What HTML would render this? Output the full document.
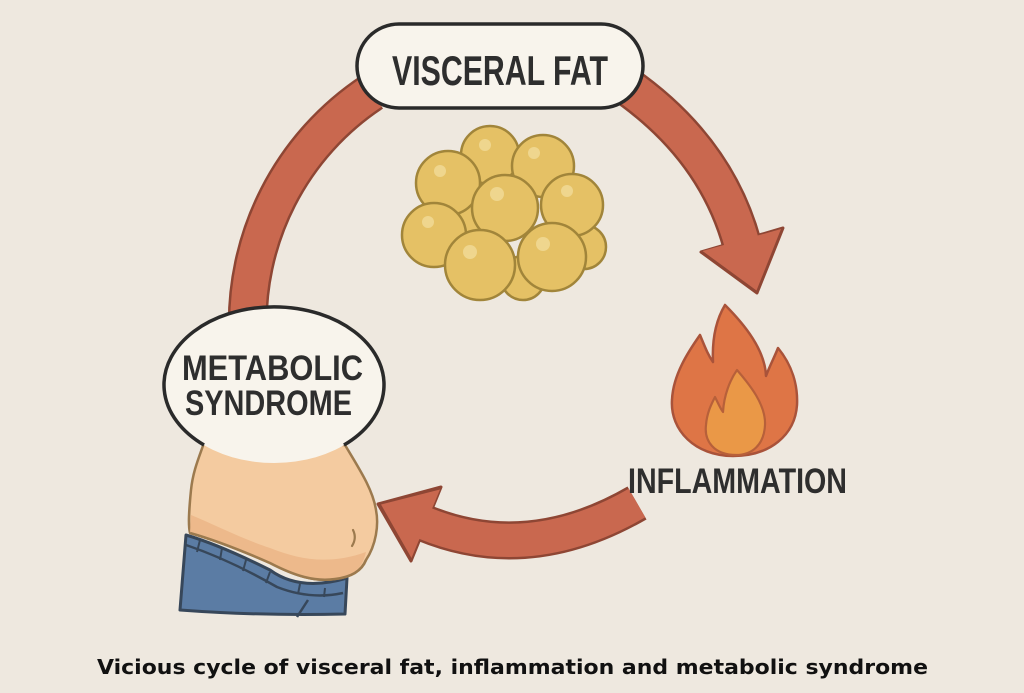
<!DOCTYPE html>
<html><head><meta charset="utf-8"><style>
html,body{margin:0;padding:0;background:#EEE8DF;}
svg{display:block;}
</style></head><body>
<svg width="1024" height="693" viewBox="0 0 1024 693" xmlns="http://www.w3.org/2000/svg">
<rect width="1024" height="693" fill="#EEE8DF"/>

<!-- Left arc (no head) -->
<path d="M 248 335 A 277 277 0 0 1 372 92" fill="none" stroke="#8E4634" stroke-width="40"/>
<path d="M 248 335 A 277 277 0 0 1 372 92" fill="none" stroke="#C9684F" stroke-width="35"/>

<!-- Top-right arrow -->
<path d="M 618 80 Q 715 145 742 244" fill="none" stroke="#8E4634" stroke-width="40"/>
<polygon points="701,252 783,228 757,293" fill="#8E4634" stroke="#8E4634" stroke-width="3" stroke-linejoin="round"/>
<path d="M 618 80 Q 715 145 742 244" fill="none" stroke="#C9684F" stroke-width="35"/>
<polygon points="702.5,251 781,229 756.5,290.5" fill="#C9684F"/>

<!-- Bottom arrow -->
<path d="M 637 503 Q 528 566 424 523" fill="none" stroke="#8E4634" stroke-width="38"/>
<polygon points="441,487 378,504 411,561" fill="#8E4634" stroke="#8E4634" stroke-width="3" stroke-linejoin="round"/>
<path d="M 637 503 Q 528 566 424 523" fill="none" stroke="#C9684F" stroke-width="33"/>
<polygon points="440,489.5 381,504.5 411.5,558" fill="#C9684F"/>

<!-- Visceral fat pill -->
<rect x="357" y="24" width="286" height="84" rx="42" ry="42" fill="#F8F4EC" stroke="#2A2A2A" stroke-width="3.5"/>
<text x="392" y="85" font-family="Liberation Sans, sans-serif" font-weight="bold" font-size="42" fill="#2E2E2E" textLength="216" lengthAdjust="spacingAndGlyphs">VISCERAL FAT</text>

<!-- Fat cells -->
<g stroke="#A1853A" stroke-width="2.5" fill="#E5C165">
<circle cx="584" cy="247" r="22"/>
<circle cx="523" cy="278" r="22"/>
<circle cx="462" cy="220" r="25"/>
<circle cx="490" cy="155" r="29"/>
<circle cx="543" cy="166" r="31"/>
<circle cx="448" cy="183" r="32"/>
<circle cx="572" cy="205" r="31"/>
<circle cx="505" cy="208" r="33"/>
<circle cx="434" cy="235" r="32"/>
<circle cx="480" cy="265" r="35"/>
<circle cx="552" cy="257" r="34"/>
</g>
<g fill="#F1DA96" opacity="0.85">
<circle cx="485" cy="145" r="6"/>
<circle cx="534" cy="153" r="6"/>
<circle cx="440" cy="171" r="6"/>
<circle cx="567" cy="191" r="6"/>
<circle cx="497" cy="194" r="7"/>
<circle cx="428" cy="222" r="6"/>
<circle cx="470" cy="252" r="7"/>
<circle cx="543" cy="244" r="7"/>
</g>

<!-- Jeans -->
<path d="M 186 535 L 180 610 Q 260 616 345 614 L 347 578 Q 300 592 270 570 Q 220 545 186 535 Z" fill="#5B7CA4" stroke="#37475A" stroke-width="3" stroke-linejoin="round"/>
<path d="M 186 545 Q 230 560 277 587 Q 310 600 343 593" fill="none" stroke="#37475A" stroke-width="2.5"/>
<path d="M 200 540 L 197 552 M 222 548 L 220 560 M 246 560 L 243 571 M 270 572 L 266 583 M 300 584 L 298 594 M 325 588 L 324 597" stroke="#37475A" stroke-width="2"/>
<path d="M 297 617 L 308 600" stroke="#37475A" stroke-width="2.5"/>

<!-- Belly -->
<path d="M 205 440 C 200 455 193 470 191 490 C 189 510 188 525 190 533 C 215 540 245 552 270 563 C 295 576 315 582 335 579 C 352 577 362 570 366 560 C 376 545 379 525 376 510 C 373 490 360 470 345 445 Z" fill="#F4CBA0" stroke="#9C7A4E" stroke-width="2.5" stroke-linejoin="round"/>
<path d="M 191 515 C 215 525 245 540 270 548 C 300 560 330 565 366 552 C 362 570 352 577 335 579 C 315 582 295 576 270 563 C 245 552 215 540 190 533 Z" fill="#EDB98B"/>
<path d="M 190 533 C 215 540 245 552 270 563 C 295 576 315 582 335 579 C 352 577 362 570 366 560" fill="none" stroke="#9C7A4E" stroke-width="2.5"/>
<path d="M 353 530 Q 357 538 352 546" fill="none" stroke="#9C7A4E" stroke-width="2.2" stroke-linecap="round"/>

<!-- Metabolic syndrome bubble -->
<ellipse cx="274" cy="385" rx="110" ry="78" fill="#F8F4EC"/>
<path d="M 204 445 A 110 78 0 1 1 344 445" fill="none" stroke="#2A2A2A" stroke-width="3.5"/>
<text x="182" y="380" font-family="Liberation Sans, sans-serif" font-weight="bold" font-size="35" fill="#2E2E2E" textLength="181" lengthAdjust="spacingAndGlyphs">METABOLIC</text>
<text x="185" y="415" font-family="Liberation Sans, sans-serif" font-weight="bold" font-size="35" fill="#2E2E2E" textLength="167" lengthAdjust="spacingAndGlyphs">SYNDROME</text>

<!-- Fire -->
<path d="M 733 456 C 695 456 670 430 672 400 C 673 375 688 352 700 335 C 705 347 708 355 713 362 C 712 340 716 320 725 305 C 745 325 765 350 766 376 C 770 365 775 356 778 348 C 792 365 798 385 797 405 C 795 435 770 456 733 456 Z" fill="#DE7546" stroke="#A9533A" stroke-width="2.5" stroke-linejoin="round"/>
<path d="M 736 455 C 714 455 704 441 706 425 C 707 412 712 403 715 397 C 718 403 720 408 723 412 C 724 395 730 380 737 370 C 750 385 766 405 765 425 C 764 445 752 455 736 455 Z" fill="#EA9847" stroke="#B7603A" stroke-width="2.2" stroke-linejoin="round"/>
<text x="628" y="493" font-family="Liberation Sans, sans-serif" font-weight="bold" font-size="35" fill="#2E2E2E" textLength="219" lengthAdjust="spacingAndGlyphs">INFLAMMATION</text>

<!-- Caption -->
<text x="97" y="674" font-family="DejaVu Sans, Liberation Sans, sans-serif" font-weight="bold" font-size="20" fill="#111" textLength="831" lengthAdjust="spacingAndGlyphs">Vicious cycle of visceral fat, inflammation and metabolic syndrome</text>
</svg>
</body></html>
